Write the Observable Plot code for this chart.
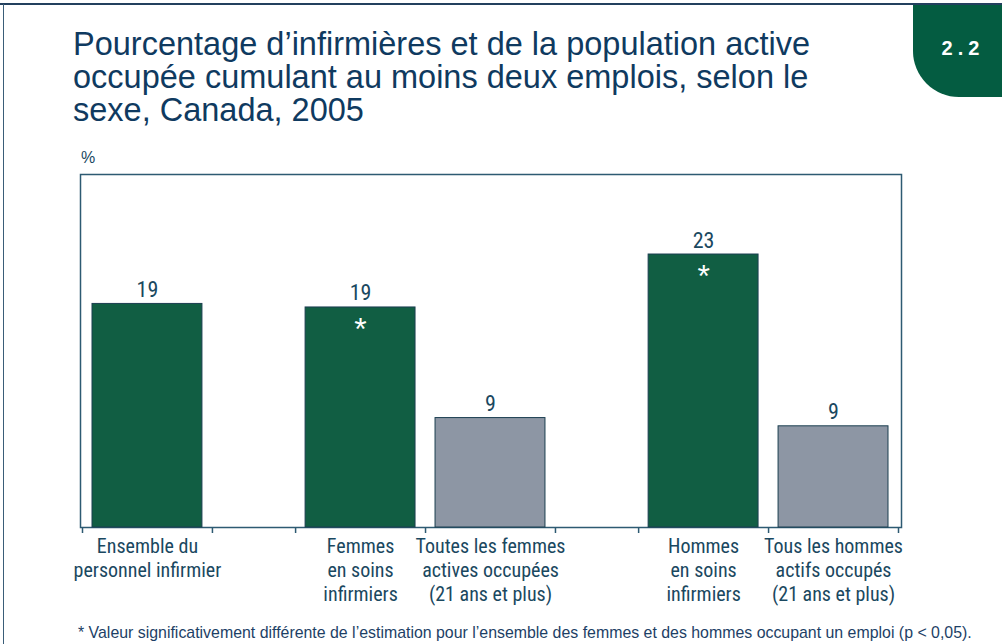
<!DOCTYPE html>
<html>
<head>
<meta charset="utf-8">
<script src="https://cdn.jsdelivr.net/npm/d3@7"></script>
<script src="https://cdn.jsdelivr.net/npm/@observablehq/plot@0.6"></script>
<style>
  body { margin: 0; background: #fff; }
  #page { position: relative; width: 1002px; height: 644px; overflow: hidden; font-family: "Liberation Sans", Arial, sans-serif; }
  .abs { position: absolute; }
  #title { left: 73px; top: 28px; font-size: 32.5px; line-height: 33px; color: #0f3a60; }
  #pct { left: 81px; top: 149px; font-size: 16px; color: #1a4860; }
  #chart { left: 0; top: 150px; }
  #note { left: 78px; top: 624px; font-size: 15.9px; color: #1d3f66; white-space: nowrap; }
  #tab { left: 913px; top: 5px; width: 89px; height: 92px; background: #045c41; border-bottom-left-radius: 46px; }
  #tabtxt { left: 935px; top: 37px; width: 56px; text-align: center; font-size: 20px; font-weight: bold; color: #fff; letter-spacing: 5px; }
  #topline { left: 0; top: 3px; width: 1002px; height: 2px; background: #23405e; }
  #leftline { left: 3px; top: 4px; width: 1px; height: 640px; background: #3a5d78; }
</style>
</head>
<body>
<div id="page">
  <div class="abs" id="topline"></div>
  <div class="abs" id="leftline"></div>
  <div class="abs" id="tab"></div>
  <div class="abs" id="tabtxt">2.2</div>
  <div class="abs" id="title">Pourcentage d’infirmières et de la population active<br>occupée cumulant au moins deux emplois, selon le<br>sexe, Canada, 2005</div>
  <div class="abs" id="pct">%</div>
  <div class="abs" id="chart"></div>
  <div class="abs" id="note">* Valeur significativement différente de l’estimation pour l’ensemble des femmes et des hommes occupant un emploi (p &lt; 0,05).</div>
</div>
<script>
// ---- data ----
const categories = [
  "Ensemble du\npersonnel infirmier",
  "Femmes\nen soins\ninfirmiers",
  "Toutes les femmes\nactives occupées\n(21 ans et plus)",
  "Hommes\nen soins\ninfirmiers",
  "Tous les hommes\nactifs occupés\n(21 ans et plus)"
];
const values = [19.0, 18.7, 9.3, 23.2, 8.6];
const valueLabels = ["19", "19", "9", "23", "9"];
const groups = [0, 1, 1, 2, 2];
const kinds = ["nurse", "nurse", "all", "nurse", "all"];
const significant = [false, true, false, true, false];

// ---- layout helpers (slot units) ----
const GAP = 0.64;
const data = categories.map((c, i) => {
  const x1 = i + groups[i] * GAP;
  return { category: c, value: values[i], label: valueLabels[i], kind: kinds[i], sig: significant[i], x1, x2: x1 + 1, xc: x1 + 0.5 };
});
const boundaries = Array.from(new Set(data.flatMap(d => [d.x1, d.x2])));
const extent = d3.max(data, d => d.x2);
const pxPerUnit = (898 - 82) / extent;
const xDomain = [(80 - 82) / pxPerUnit, extent + (901 - 898) / pxPerUnit];

const navy = "#1a4860";
const frameColor = "#2d5a72";
const narrow = "'Liberation Sans Narrow', 'Arial Narrow', 'Roboto Condensed', Roboto, sans-serif";

const chart = Plot.plot({
  width: 1002,
  height: 460,
  marginLeft: 80,
  marginRight: 101,
  marginTop: 24,
  marginBottom: 83,
  style: { fontFamily: narrow, color: navy, background: "transparent" },
  x: { type: "linear", domain: xDomain, axis: null },
  y: { domain: [0, 30], axis: null },
  color: { domain: ["nurse", "all"], range: ["#115e43", "#8d96a4"] },
  marks: [
    Plot.frame({ stroke: frameColor, strokeWidth: 1.5 }),
    Plot.axisX({ ticks: boundaries, tickFormat: () => "", tickSize: 6, stroke: frameColor, strokeWidth: 1.5 }),
    Plot.rectY(data, { x1: "x1", x2: "x2", y: "value", fill: "kind", stroke: "#1b3e50", strokeWidth: 1, insetLeft: 10, insetRight: 10 }),
    Plot.text(data, { x: "xc", y: "value", text: "label", lineAnchor: "bottom", dy: -7, fontSize: 22, fill: navy, fontFamily: narrow }),
    Plot.text(data.filter(d => d.sig), { x: "xc", y: "value", text: () => "*", lineAnchor: "top", dy: 10, fontSize: 32, fill: "#fff", fontFamily: "'Liberation Sans', Arial, sans-serif" }),
    Plot.text(data, { x: "xc", y: () => 0, text: "category", lineAnchor: "top", dy: 8, fontSize: 20, lineHeight: 1.2, fill: navy, fontFamily: narrow })
  ]
});
document.getElementById("chart").appendChild(chart);
</script>
</body>
</html>
